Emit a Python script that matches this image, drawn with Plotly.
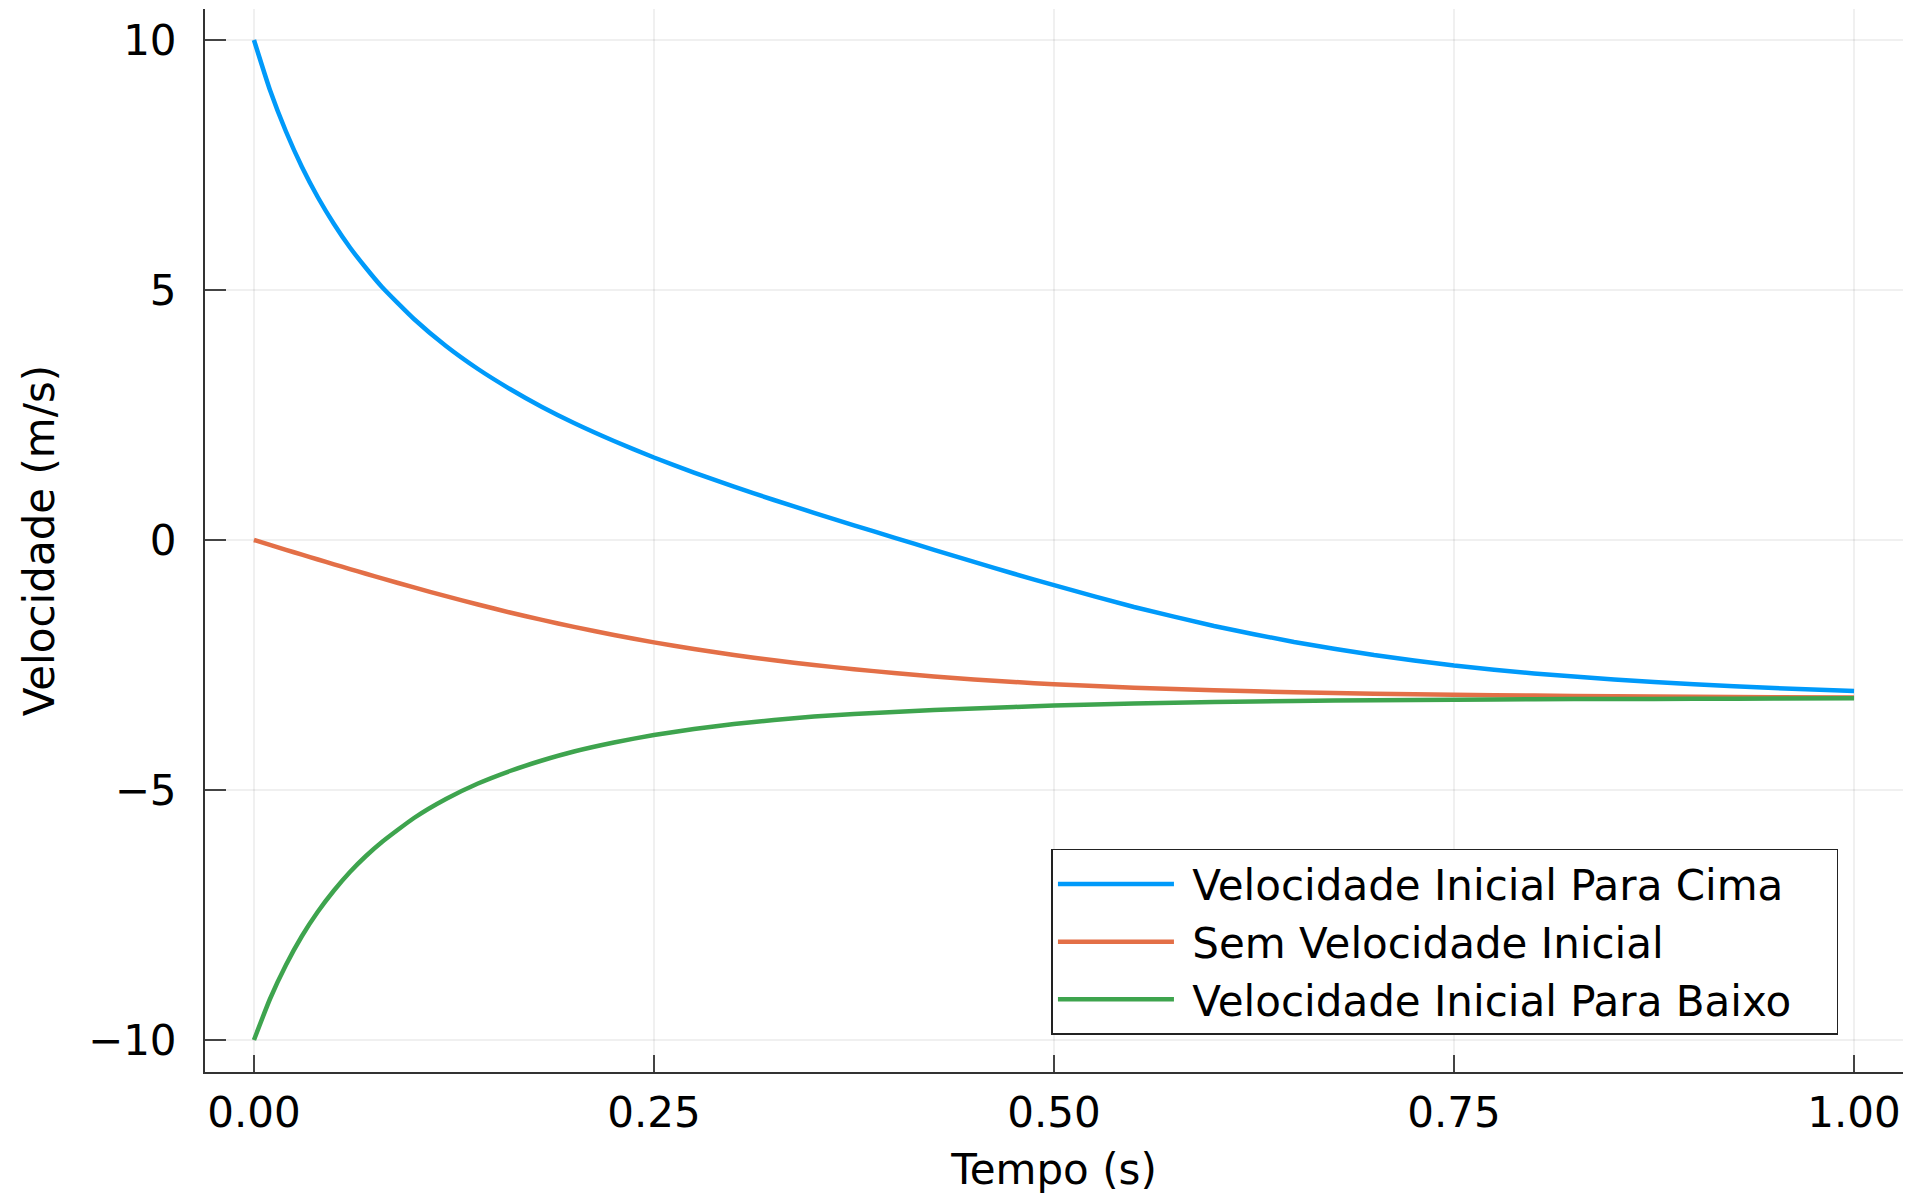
import plotly.graph_objects as go

# Time samples (s)
tempo = [0, 0.01, 0.02, 0.03, 0.04, 0.05, 0.06, 0.07, 0.08, 0.10, 0.12, 0.14, 0.16, 0.18,
         0.20, 0.225, 0.25, 0.275, 0.30, 0.325, 0.35, 0.375, 0.40, 0.425, 0.45, 0.475,
         0.50, 0.55, 0.60, 0.65, 0.70, 0.75, 0.80, 0.85, 0.90, 0.95, 1.00]

# Velocities (m/s)
v_cima = [10.0, 9.00, 8.17, 7.46, 6.85, 6.32, 5.85, 5.44, 5.06, 4.42, 3.88, 3.42, 3.02, 2.66,
          2.34, 1.98, 1.65, 1.348, 1.067, 0.800, 0.544, 0.294, 0.049, -0.196, -0.438, -0.675,
          -0.904, -1.34, -1.72, -2.04, -2.30, -2.51, -2.67, -2.79, -2.885, -2.96, -3.02]

v_sem = [0.0, -0.098, -0.196, -0.293, -0.390, -0.486, -0.581, -0.675, -0.768, -0.949, -1.123,
         -1.290, -1.449, -1.598, -1.738, -1.900, -2.047, -2.180, -2.300, -2.406, -2.500, -2.584,
         -2.660, -2.730, -2.790, -2.840, -2.885, -2.955, -3.005, -3.045, -3.075, -3.095, -3.110,
         -3.125, -3.135, -3.143, -3.150]

v_baixo = [-10.0, -9.18, -8.50, -7.92, -7.43, -7.01, -6.64, -6.32, -6.04, -5.56, -5.18, -4.87,
           -4.62, -4.41, -4.23, -4.05, -3.90, -3.780, -3.680, -3.600, -3.530, -3.480, -3.440,
           -3.400, -3.370, -3.340, -3.310, -3.270, -3.240, -3.220, -3.205, -3.195, -3.185, -3.180,
           -3.175, -3.170, -3.165]

series_names = ["Velocidade Inicial Para Cima", "Sem Velocidade Inicial", "Velocidade Inicial Para Baixo"]
series_colors = ["#009AFA", "#E36F47", "#3EA44E"]

x_ticks = [0.0, 0.25, 0.5, 0.75, 1.0]
x_ticklabels = ["0.00", "0.25", "0.50", "0.75", "1.00"]
y_ticks = [-10, -5, 0, 5, 10]
y_ticklabels = ["\u221210", "\u22125", "0", "5", "10"]

FONT = "DejaVu Sans"
FS = 42

fig = go.Figure()
for vals, name, col in zip([v_cima, v_sem, v_baixo], series_names, series_colors):
    fig.add_trace(go.Scatter(x=tempo, y=vals, mode="lines",
                             name=" " + name + "\u00a0\u00a0\u00a0",
                             line=dict(color=col, width=4.5, shape="spline", smoothing=0.5)))

fig.update_layout(
    width=1908, height=1197,
    margin=dict(l=205, r=5, t=9, b=125),
    paper_bgcolor="white", plot_bgcolor="white",
    font=dict(family=FONT, size=FS, color="black"),
    showlegend=True,
    legend=dict(
        x=0.4985, y=0.21, xanchor="left", yanchor="top",
        bgcolor="white", bordercolor="#222222", borderwidth=1.5,
        font=dict(family=FONT, size=FS, color="black"),
        itemwidth=116, tracegroupgap=0,
    ),
)

fig.update_xaxes(
    range=[-0.0306, 1.0306],
    tickmode="array", tickvals=x_ticks, ticktext=x_ticklabels,
    showgrid=True, gridcolor="rgba(0,0,0,0.06)", gridwidth=1.5,
    showline=True, linecolor="#333333", linewidth=2, mirror=False,
    ticks="inside", ticklen=17, tickwidth=2, tickcolor="#444444",
    zeroline=False, ticklabelstandoff=3,
    title=dict(text="Tempo (s)", font=dict(family=FONT, size=FS), standoff=18),
    automargin=False,
)
fig.update_yaxes(
    range=[-10.64, 10.62],
    tickmode="array", tickvals=y_ticks, ticktext=y_ticklabels,
    showgrid=True, gridcolor="rgba(0,0,0,0.06)", gridwidth=1.5,
    showline=True, linecolor="#333333", linewidth=2, mirror=False,
    ticks="inside", ticklen=21, tickwidth=2, tickcolor="#444444",
    zeroline=False, ticklabelstandoff=18,
    title=dict(text="Velocidade (m/s)", font=dict(family=FONT, size=FS), standoff=20),
    automargin=False,
)

fig.write_html("out.html", config={"displayModeBar": False},
               post_script="document.body.style.margin='0';")
